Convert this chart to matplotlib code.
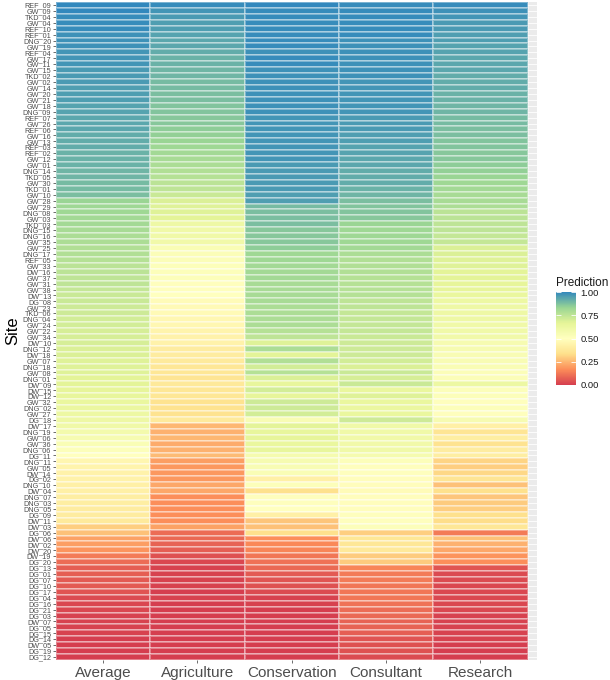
import numpy as np
import matplotlib
matplotlib.use("Agg")
import matplotlib.pyplot as plt
from matplotlib.colors import LinearSegmentedColormap

plt.rcParams['font.family'] = ['Liberation Sans', 'DejaVu Sans']

sites = ["REF_09","GW_09","TKD_04","GW_04","REF_10","REF_01","DNG_20","GW_19","REF_04","GW_17",
         "GW_11","GW_15","TKD_02","GW_02","GW_14","GW_20","GW_21","GW_18","DNG_09","REF_07",
         "GW_26","REF_06","GW_16","GW_13","REF_03","REF_02","GW_12","GW_01","DNG_14","TKD_05",
         "GW_30","TKD_01","GW_10","GW_28","GW_29","DNG_08","GW_03","TKD_03","DNG_15","DNG_16",
         "GW_35","GW_25","DNG_17","REF_05","GW_33","DW_16","GW_37","GW_31","GW_38","DW_13",
         "DG_08","GW_23","TKD_06","DNG_04","GW_24","GW_22","GW_34","DW_10","DNG_12","DW_18",
         "GW_07","DNG_18","GW_08","DNG_01","DW_09","DW_15","DW_12","GW_32","DNG_02","GW_27",
         "DG_18","DW_17","DNG_19","GW_06","GW_36","DNG_06","DG_11","DNG_11","GW_05","DW_14",
         "DG_02","DNG_10","DW_04","DNG_07","DNG_03","DNG_05","DG_09","DW_11","DW_03","DG_06",
         "DW_06","DW_02","DW_20","DW_19","DG_20","DG_13","DG_01","DG_07","DG_10","DG_17",
         "DG_04","DG_16","DG_21","DG_03","DW_07","DG_05","DG_15","DG_14","DW_05","DG_19","DG_12"]

groups = ["Average", "Agriculture", "Conservation", "Consultant", "Research"]

average = [1.00, 1.00, 0.99, 0.99, 0.99, 0.98, 0.98, 0.98, 0.97, 0.97, 0.97, 0.96, 0.96, 0.96, 0.95, 0.95, 0.95,
           0.94, 0.94, 0.93, 0.93, 0.93, 0.92, 0.92, 0.92, 0.91, 0.91, 0.91, 0.90, 0.90, 0.89, 0.89, 0.88,
           0.83, 0.82, 0.82, 0.81, 0.81, 0.80, 0.79, 0.79, 0.78, 0.78, 0.77, 0.76, 0.76, 0.75, 0.75, 0.74,
           0.73, 0.73, 0.72, 0.72, 0.71, 0.71, 0.70, 0.70, 0.70, 0.69, 0.69, 0.68, 0.68, 0.68, 0.67, 0.67,
           0.66, 0.65, 0.64, 0.63, 0.62, 0.61, 0.60, 0.58, 0.56, 0.54, 0.52, 0.50, 0.45, 0.44, 0.43,
           0.43, 0.42, 0.42, 0.41, 0.41, 0.40, 0.40, 0.39, 0.30,
           0.27, 0.21, 0.20, 0.18, 0.13, 0.10, 0.07,
           0.07, 0.06, 0.06, 0.05, 0.03, 0.02, 0.02, 0.01, 0.01, 0.01, 0.01, 0.00, 0.00, 0.00, 0.00]

agriculture = [0.99, 0.97, 0.96, 0.95, 0.95, 0.94, 0.93, 0.93, 0.92, 0.91, 0.91, 0.90, 0.90, 0.89, 0.89, 0.88, 0.88,
               0.87, 0.87, 0.86, 0.86, 0.85, 0.84, 0.83, 0.82, 0.81, 0.80, 0.79, 0.78, 0.77, 0.76, 0.75, 0.73,
               0.69, 0.68, 0.68, 0.67, 0.61, 0.60, 0.60, 0.59, 0.54, 0.53, 0.53, 0.52, 0.52, 0.52, 0.51, 0.51,
               0.50, 0.48, 0.47, 0.47, 0.46, 0.46, 0.44, 0.43, 0.43, 0.40, 0.40, 0.39, 0.37, 0.37, 0.36, 0.38,
               0.37, 0.37, 0.35, 0.35, 0.35, 0.39,
               0.25, 0.24, 0.25, 0.23, 0.24, 0.26, 0.20, 0.19, 0.19,
               0.19, 0.22, 0.22, 0.17, 0.17, 0.17, 0.17, 0.17, 0.21,
               0.10, 0.09, 0.08, 0.07, 0.04, 0.02, 0.01,
               0.01, 0.01, 0.01, 0.00, 0.01, 0.00, 0.00, 0.00, 0.00, 0.00, 0.00, 0.00, 0.00, 0.00, 0.00]

conservation = [1.00, 0.99, 0.99, 0.99, 0.99, 0.99, 0.99, 0.99, 0.98, 0.99, 0.99, 0.98, 0.98, 0.98, 0.98, 0.98, 0.98,
                0.98, 0.98, 0.97, 0.97, 0.97, 0.97, 0.97, 0.97, 0.97, 0.97, 0.96, 0.96, 0.96, 0.96, 0.96, 0.95,
                0.95, 0.89, 0.88, 0.88, 0.88, 0.86, 0.86, 0.86, 0.85, 0.82, 0.82, 0.81, 0.81, 0.81, 0.80, 0.80,
                0.80, 0.80, 0.79, 0.79, 0.79, 0.79, 0.77, 0.75, 0.68, 0.79, 0.67, 0.78, 0.71, 0.77, 0.69,
                0.65, 0.71, 0.66, 0.72, 0.72, 0.71, 0.55, 0.67, 0.65, 0.66, 0.64, 0.65, 0.57, 0.56, 0.55, 0.54,
                0.42, 0.52, 0.34, 0.51, 0.51, 0.50, 0.42, 0.28, 0.27, 0.34, 0.17, 0.16, 0.15, 0.12, 0.11, 0.09,
                0.06, 0.05, 0.04, 0.03, 0.01, 0.01, 0.00, 0.00, 0.00, 0.00, 0.00, 0.00, 0.00, 0.00, 0.00]

consultant = [0.99, 0.99, 0.99, 0.99, 0.99, 0.99, 0.98, 0.98, 0.98, 0.98, 0.98, 0.98, 0.98, 0.97, 0.97, 0.97, 0.97,
              0.97, 0.97, 0.96, 0.96, 0.96, 0.95, 0.95, 0.94, 0.94, 0.93, 0.93, 0.92, 0.92, 0.92, 0.91, 0.90,
              0.88, 0.87, 0.87, 0.86, 0.83, 0.82, 0.82, 0.82, 0.81, 0.79, 0.78, 0.78, 0.78, 0.77, 0.77, 0.77,
              0.77, 0.75, 0.75, 0.74, 0.74, 0.74, 0.74, 0.73, 0.72, 0.72, 0.72, 0.71, 0.69, 0.73, 0.70,
              0.73, 0.64, 0.68, 0.64, 0.63, 0.64, 0.72, 0.60, 0.60, 0.59, 0.59, 0.60, 0.57, 0.52, 0.51, 0.51,
              0.49, 0.49, 0.48, 0.49, 0.49, 0.49, 0.51, 0.51, 0.52, 0.30, 0.37, 0.37, 0.38, 0.29, 0.29, 0.15,
              0.13, 0.13, 0.12, 0.12, 0.12, 0.11, 0.10, 0.09, 0.08, 0.08, 0.07, 0.05, 0.04, 0.04, 0.03]

research = [0.99, 0.98, 0.97, 0.96, 0.96, 0.95, 0.95, 0.94, 0.94, 0.93, 0.93, 0.93, 0.92, 0.92, 0.92, 0.91, 0.91,
            0.90, 0.90, 0.89, 0.89, 0.88, 0.88, 0.87, 0.87, 0.86, 0.86, 0.85, 0.84, 0.83, 0.82, 0.81, 0.80,
            0.80, 0.79, 0.76, 0.76, 0.75, 0.75, 0.74, 0.74, 0.69, 0.69, 0.68, 0.68, 0.67, 0.67, 0.66, 0.66,
            0.64, 0.62, 0.61, 0.61, 0.61, 0.60, 0.60, 0.59, 0.56, 0.56, 0.55, 0.55, 0.54, 0.53, 0.53,
            0.62, 0.52, 0.52, 0.51, 0.52, 0.51, 0.56, 0.42, 0.36, 0.41, 0.35, 0.40, 0.41, 0.31, 0.30, 0.32,
            0.36, 0.27, 0.34, 0.28, 0.29, 0.30, 0.34, 0.33, 0.37, 0.13, 0.27, 0.24, 0.22, 0.18, 0.17, 0.05,
            0.03, 0.03, 0.02, 0.02, 0.02, 0.02, 0.02, 0.01, 0.01, 0.01, 0.01, 0.01, 0.00, 0.00, 0.00]

columns = [average, agriculture, conservation, consultant, research]
for c in columns:
    assert len(c) == len(sites), len(c)

Z = np.array(columns).T  # rows = sites, cols = groups

spectral7 = ["#D53E4F", "#FC8D59", "#FEE08B", "#FFFFBF", "#E6F598", "#99D594", "#3288BD"]
cmap = LinearSegmentedColormap.from_list("spec", spectral7)

fig = plt.figure(figsize=(6.1, 6.8), dpi=100)
ax = fig.add_axes([56/610, 20/680, 481/610, 658/680])
ax.set_facecolor("#EBEBEB")

n = len(sites)
xe = np.arange(len(groups) + 1) - 0.5
ye = np.arange(n + 1) - 0.5
mesh = ax.pcolormesh(xe, ye, Z, cmap=cmap, vmin=0, vmax=1,
                     edgecolors=(1, 1, 1, 0.35), linewidth=0.25, zorder=2)

ax.set_xlim(-0.5, len(groups) - 0.5 + 0.1)
ax.set_ylim(n - 0.5, -0.5)
ax.set_yticks(range(n))
ax.set_yticklabels(sites)
ax.set_xticks(range(len(groups)))
ax.set_xticklabels(groups)
ax.grid(True, color="white", linewidth=0.6, zorder=1)
ax.set_axisbelow(True)
for s in ax.spines.values():
    s.set_visible(False)
ax.tick_params(axis="y", labelsize=5.2, labelcolor="#4D4D4D", length=2.5, width=0.5,
               color="#333333", pad=1)
ax.tick_params(axis="x", labelsize=11, labelcolor="#4D4D4D", length=2.5, width=0.5,
               color="#333333", pad=1.5)
ax.set_ylabel("Site", fontsize=12, labelpad=2)

cax = fig.add_axes([556/610, (680-385)/680, 20/610, 93/680])
cb = fig.colorbar(mesh, cax=cax)
cb.outline.set_visible(False)
cb.set_ticks([0, 0.25, 0.5, 0.75, 1.0])
cb.set_ticklabels(["0.00", "0.25", "0.50", "0.75", "1.00"])
cax.tick_params(axis="y", direction="in", length=3.5, width=0.6, color="white",
                left=True, right=True, labelsize=6.8, labelcolor="#1A1A1A", pad=3)
fig.text(556/610, (680-283)/680, "Prediction", fontsize=8.5, ha="left", va="center", color="#1A1A1A")

fig.savefig("out.png", dpi=100)
